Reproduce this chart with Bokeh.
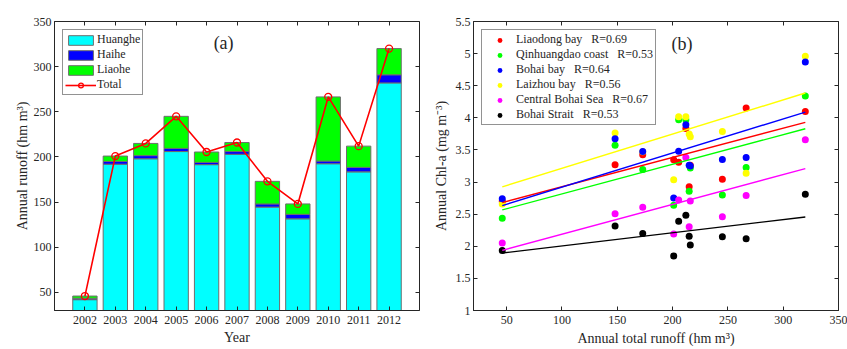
from bokeh.plotting import figure
from bokeh.models import (ColumnDataSource, FixedTicker, LinearAxis, Legend, LegendItem,
                          Label, CustomJSTickFormatter, Range1d)
from bokeh.layouts import row
from bokeh.embed import file_html
from bokeh.resources import INLINE

# ---------------- data: panel (a) ----------------
years = [2002, 2003, 2004, 2005, 2006, 2007, 2008, 2009, 2010, 2011, 2012]
huanghe = [42, 192, 198, 206, 191.5, 203, 144.5, 131.5, 192.5, 183.5, 282]
haihe = [1.5, 3, 3.5, 3.5, 2.5, 3, 3.5, 5, 3, 5, 9]
liaohe = [2.5, 6, 13.5, 35.5, 11.5, 10, 25, 11.5, 71, 23.5, 29]
total = [46, 201, 215, 245, 205.5, 216, 173, 148, 266.5, 212, 320]

# ---------------- data: panel (b) (Chl-a per year, x = total runoff) ----------------
liaodong = [2.70, 3.346, 2.925, 3.045, 3.31, 3.26, 3.424, 3.268, 4.153, 3.835, 4.10]
qinhuangdao = [2.436, 2.639, 2.857, 2.80, 3.97, 3.22, 3.195, 3.575, 3.226, 3.97, 4.34]
bohai_bay = [2.74, 2.753, 3.263, 3.35, 3.48, 3.25, 3.476, 3.674, 3.383, 3.892, 4.87]
laizhou = [2.66, 3.034, 3.747, 3.788, 4.017, 3.705, 3.47, 3.762, 3.138, 4.017, 4.96]
central = [2.05, 2.19, 2.305, 2.461, 2.722, 2.706, 2.607, 2.508, 2.79, 3.383, 3.66]
strait = [1.936, 1.848, 2.155, 2.149, 2.389, 2.02, 2.20, 2.316, 2.118, 2.483, 2.81]

# fitted lines: values at x = 46 and x = 320
fit_x = [46, 320]
fit_liaodong = [2.68, 3.93]
fit_qinhuangdao = [2.566, 3.83]
fit_bohai_bay = [2.633, 4.09]
fit_laizhou = [2.925, 4.387]
fit_central = [1.937, 3.21]
fit_strait = [1.895, 2.456]

region_names = ["Liaodong bay", "Qinhuangdao coast", "Bohai bay", "Laizhou bay",
                "Central Bohai Sea", "Bohai Strait"]
region_r = ["R=0.69", "R=0.53", "R=0.64", "R=0.56", "R=0.67", "R=0.53"]

yticks_a = [50, 100, 150, 200, 250, 300, 350]
xticks_b = [50, 100, 150, 200, 250, 300, 350]
yticks_b = [1, 1.5, 2, 2.5, 3, 3.5, 4, 4.5, 5, 5.5]

FONT = "Liberation Serif"
TXT = "#262626"

fmt = CustomJSTickFormatter(code="return tick.toString();")
blank = CustomJSTickFormatter(code="return '';")


def style_axis(ax, ticks, fs="12px"):
    ax.ticker = FixedTicker(ticks=ticks)
    ax.formatter = fmt
    ax.major_tick_in = 4
    ax.major_tick_out = 0
    ax.minor_tick_line_color = None
    ax.axis_line_color = TXT
    ax.major_tick_line_color = TXT
    ax.major_label_text_font = FONT
    ax.major_label_text_font_size = fs
    ax.major_label_text_color = TXT
    ax.axis_label_text_font = FONT
    ax.axis_label_text_font_size = "14px"
    ax.axis_label_text_font_style = "normal"
    ax.axis_label_text_color = TXT


def add_mirror(p, xt, yt):
    for loc, ticks in (("right", yt), ("above", xt)):
        ax = LinearAxis()
        ax.ticker = FixedTicker(ticks=ticks)
        ax.formatter = blank
        ax.major_tick_in = 4
        ax.major_tick_out = 0
        ax.minor_tick_line_color = None
        ax.axis_line_color = None
        ax.major_tick_line_color = TXT
        ax.major_label_standoff = 0
        ax.major_label_text_font_size = "1px"
        p.add_layout(ax, loc)


def base_fig(width, xr, yr, bl, br):
    p = figure(width=width, height=349, x_range=xr, y_range=yr,
               output_backend="svg", toolbar_location=None,
               min_border_left=bl, min_border_right=br,
               min_border_top=21, min_border_bottom=39)
    p.grid.visible = False
    p.outline_line_color = TXT
    p.outline_line_width = 1
    p.outline_line_alpha = 1
    p.background_fill_color = "white"
    p.border_fill_color = "white"
    return p


# ---------------- panel (a) ----------------
pa = base_fig(428, Range1d(2001, 2013), Range1d(30, 350), 54, 9)
src = ColumnDataSource(dict(year=years, huanghe=huanghe, haihe=haihe, liaohe=liaohe, total=total))
bars = pa.vbar_stack(["huanghe", "haihe", "liaohe"], x="year", width=0.8,
                     fill_color=["#00FFFF", "#0000FF", "#00FF00"],
                     line_color="#6e6e6e", line_width=1, source=src)
ln = pa.line("year", "total", source=src, line_color="#FF0000", line_width=1.6)
mk = pa.scatter("year", "total", source=src, marker="circle", size=7,
                line_color="#FF0000", line_width=1.3, fill_color=None)

style_axis(pa.xaxis[0], years)
style_axis(pa.yaxis[0], yticks_a)
pa.xaxis[0].axis_label = "Year"
pa.yaxis[0].axis_label = "Annual runoff (hm m\u00b3)"
pa.xaxis[0].major_label_standoff = 5
pa.xaxis[0].axis_label_standoff = 3
pa.yaxis[0].major_label_standoff = 3
pa.yaxis[0].axis_label_standoff = 1
add_mirror(pa, years, yticks_a)

leg_a = Legend(items=[LegendItem(label="Huanghe", renderers=[bars[0]]),
                      LegendItem(label="Haihe", renderers=[bars[1]]),
                      LegendItem(label="Liaohe", renderers=[bars[2]]),
                      LegendItem(label="Total", renderers=[ln, mk])],
               location="top_left")
pa.add_layout(leg_a)
pa.add_layout(Label(x=2006.56, y=326, text="(a)", text_align="center", text_baseline="middle",
                    text_font=FONT, text_font_size="18px", text_color=TXT))

# ---------------- panel (b) ----------------
pb = base_fig(419, Range1d(20, 350), Range1d(1, 5.5), 45, 9)
series = [liaodong, qinhuangdao, bohai_bay, laizhou, central, strait]
fits = [fit_liaodong, fit_qinhuangdao, fit_bohai_bay, fit_laizhou, fit_central, fit_strait]
colors = ["#FF0000", "#00FF00", "#0000FF", "#FFFF00", "#FF00FF", "#000000"]
draw_order = [0, 1, 3, 2, 4, 5]
scat = {}
for i in draw_order:
    scat[i] = pb.scatter(total, series[i], marker="circle", size=7,
                         fill_color=colors[i], line_color=colors[i], line_width=0)
for i in range(6):
    pb.line(fit_x, fits[i], line_color=colors[i], line_width=1.4)

style_axis(pb.xaxis[0], xticks_b)
style_axis(pb.yaxis[0], yticks_b)
pb.xaxis[0].axis_label = "Annual total runoff (hm m\u00b3)"
pb.yaxis[0].axis_label = "Annual Chl-a (mg m\u207b\u00b3)"
pb.xaxis[0].major_label_standoff = 5
pb.xaxis[0].axis_label_standoff = 4
pb.yaxis[0].major_label_standoff = 3
pb.yaxis[0].axis_label_standoff = 4
add_mirror(pb, xticks_b, yticks_b)

leg_b = Legend(items=[LegendItem(label=region_names[i] + " \u00a0 " + region_r[i], renderers=[scat[i]])
                      for i in range(6)],
               location="top_left")
pb.add_layout(leg_b)
pb.add_layout(Label(x=208.4, y=5.15, text="(b)", text_align="center", text_baseline="middle",
                    text_font=FONT, text_font_size="18px", text_color=TXT))

for lg in (leg_a, leg_b):
    lg.label_text_font = FONT
    lg.label_text_font_size = "12px"
    lg.label_text_color = TXT
    lg.glyph_width = 31
    lg.glyph_height = 12
    lg.label_height = 12
    lg.label_standoff = 1
    lg.spacing = 0
    lg.padding = 2
    lg.margin = 8
    lg.border_line_color = TXT
    lg.border_line_width = 1
    lg.background_fill_color = "white"
    lg.background_fill_alpha = 1

layout = row(pa, pb)
open("out.html", "w").write(file_html(layout, INLINE))
